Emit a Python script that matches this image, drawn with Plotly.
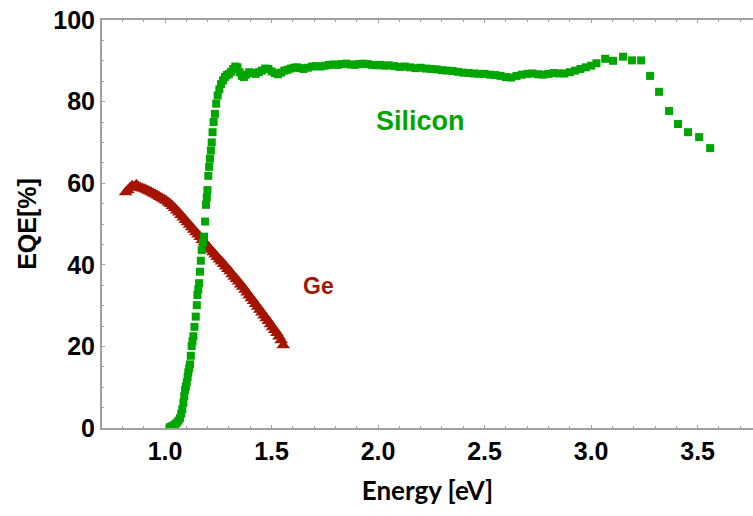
import plotly.graph_objects as go

# Silicon photodiode EQE vs photon energy
si_energy = [
    1.023, 1.031, 1.039, 1.047, 1.055, 1.063, 1.070, 1.076, 1.081, 1.086,
    1.090, 1.094, 1.098, 1.102, 1.106, 1.109, 1.113, 1.117, 1.121, 1.125,
    1.129, 1.133, 1.138, 1.144, 1.149, 1.152, 1.156, 1.160, 1.164, 1.168,
    1.172, 1.178, 1.183, 1.188, 1.192, 1.196, 1.199, 1.203, 1.207, 1.211,
    1.215, 1.219, 1.223, 1.228, 1.234, 1.240, 1.247, 1.255, 1.263, 1.272,
    1.281, 1.290, 1.300, 1.310, 1.320, 1.330, 1.340, 1.350, 1.360, 1.370,
    1.380, 1.395, 1.410, 1.425, 1.440, 1.455, 1.470, 1.485, 1.500, 1.515,
    1.530, 1.545, 1.560, 1.575, 1.590, 1.605, 1.620, 1.635, 1.650, 1.670,
    1.690, 1.710, 1.730, 1.750, 1.770, 1.790, 1.810, 1.830, 1.850, 1.870,
    1.890, 1.910, 1.930, 1.950, 1.970, 1.990, 2.010, 2.030, 2.050, 2.075,
    2.100, 2.125, 2.150, 2.175, 2.200, 2.225, 2.250, 2.275, 2.300, 2.325,
    2.350, 2.375, 2.400, 2.425, 2.450, 2.475, 2.500, 2.525, 2.550, 2.575,
    2.600, 2.625, 2.650, 2.675, 2.700, 2.725, 2.750, 2.775, 2.800, 2.825,
    2.850, 2.875, 2.900, 2.925, 2.950, 2.975, 3.000, 3.025, 3.066, 3.103,
    3.150, 3.192, 3.235, 3.277, 3.319, 3.366, 3.408, 3.455, 3.507, 3.559,
]
si_eqe = [
    0.2, 0.4, 0.6, 0.9, 1.3, 1.8, 2.4, 3.5, 4.6, 6.2,
    7.8, 9.3, 10.2, 11.2, 12.5, 13.6, 14.6, 15.6, 17.7, 20.1,
    21.3, 22.5, 24.8, 27.3, 30.1, 32.6, 34.0, 35.5, 38.3, 41.0,
    43.6, 45.5, 46.9, 50.6, 54.7, 56.5, 58.3, 61.8, 64.0, 66.0,
    68.0, 70.0, 72.5, 75.0, 77.0, 79.5, 81.5, 83.0, 84.3, 85.2,
    86.0, 86.5, 86.8, 87.3, 88.0, 88.6, 88.4, 87.2, 86.3, 86.0,
    86.6, 87.2, 87.0, 86.8, 87.2, 87.6, 88.1, 88.0, 87.4, 87.0,
    86.7, 87.1, 87.6, 87.8, 88.1, 88.3, 88.4, 88.2, 88.0, 88.3,
    88.6, 88.7, 88.6, 88.8, 89.0, 89.1, 89.0, 89.2, 89.3, 89.1,
    89.0, 89.2, 89.3, 89.2, 89.0, 88.9, 89.0, 88.8, 88.9, 88.7,
    88.5, 88.6, 88.4, 88.2, 88.3, 88.1, 88.0, 87.9, 87.7, 87.6,
    87.5, 87.3, 87.1, 87.0, 86.9, 86.8, 86.8, 86.6, 86.5, 86.3,
    86.0, 85.9, 86.3, 86.6, 86.8, 86.9, 86.7, 86.6, 86.8, 87.0,
    86.9, 86.9, 87.2, 87.6, 88.0, 88.4, 88.8, 89.4, 90.5, 90.0,
    91.0, 90.1, 90.1, 86.3, 82.4, 77.7, 74.5, 72.5, 71.3, 68.6,
]

# Germanium photodiode EQE vs photon energy
ge_energy = [
    0.815, 0.825, 0.835, 0.845, 0.855, 0.865, 0.875, 0.885, 0.895, 0.905,
    0.915, 0.925, 0.935, 0.945, 0.955, 0.965, 0.975, 0.985, 0.995, 1.005,
    1.015, 1.025, 1.035, 1.045, 1.055, 1.065, 1.075, 1.085, 1.095, 1.105,
    1.115, 1.125, 1.135, 1.145, 1.155, 1.165, 1.175, 1.185, 1.195, 1.205,
    1.215, 1.225, 1.235, 1.245, 1.255, 1.265, 1.275, 1.285, 1.295, 1.305,
    1.315, 1.325, 1.335, 1.345, 1.355, 1.365, 1.375, 1.385, 1.395, 1.405,
    1.415, 1.425, 1.435, 1.445, 1.455, 1.465, 1.475, 1.485, 1.495, 1.505,
    1.515, 1.525, 1.535, 1.545, 1.555,
]
ge_eqe = [
    57.8, 58.3, 58.9, 59.4, 59.1, 59.6, 59.2, 58.9, 58.7, 58.5,
    58.3, 58.0, 57.8, 57.5, 57.2, 56.9, 56.6, 56.3, 56.0, 55.7,
    55.3, 54.9, 54.4, 53.9, 53.3, 52.8, 52.2, 51.6, 51.0, 50.4,
    49.8, 49.2, 48.6, 48.0, 47.4, 46.8, 46.1, 45.5, 44.9, 44.3,
    43.7, 43.1, 42.5, 41.9, 41.3, 40.8, 40.2, 39.6, 39.0, 38.4,
    37.7, 37.1, 36.5, 35.9, 35.2, 34.6, 33.9, 33.2, 32.5, 31.8,
    31.1, 30.4, 29.7, 29.0, 28.3, 27.6, 26.9, 26.2, 25.4, 24.7,
    24.0, 23.3, 22.4, 21.5, 20.3,
]

x_ticks = [1.0, 1.5, 2.0, 2.5, 3.0, 3.5]
x_tick_text = ["1.0", "1.5", "2.0", "2.5", "3.0", "3.5"]
y_ticks = [0, 20, 40, 60, 80, 100]

SI_GREEN = "#00A600"
GE_RED = "#A51400"
AXIS_GRAY = "#A0A0A0"
BOLD_SANS = "Liberation Sans, Arial, sans-serif"

fig = go.Figure()
fig.add_trace(go.Scatter(
    x=ge_energy, y=ge_eqe, mode="markers", name="Ge",
    marker=dict(symbol="triangle-up", size=12, color=GE_RED, line=dict(width=0)),
))
fig.add_trace(go.Scatter(
    x=si_energy, y=si_eqe, mode="markers", name="Silicon",
    marker=dict(symbol="square", size=8, color=SI_GREEN, line=dict(width=0)),
))

fig.add_annotation(x=2.20, y=75.2, text="Silicon", showarrow=False,
                   font=dict(family=BOLD_SANS, size=27, color=SI_GREEN, weight="bold"))
fig.add_annotation(x=1.718, y=34.8, text="Ge", showarrow=False,
                   font=dict(family=BOLD_SANS, size=23, color=GE_RED, weight="bold"))

fig.update_layout(
    width=753, height=516,
    margin=dict(l=102, r=0, t=20, b=88),
    paper_bgcolor="white", plot_bgcolor="white",
    showlegend=False,
    xaxis=dict(
        range=[0.704, 3.76], tickvals=x_ticks, ticktext=x_tick_text,
        showgrid=False, zeroline=False,
        showline=True, linecolor=AXIS_GRAY, linewidth=2, mirror="ticks",
        ticks="inside", ticklen=3, tickcolor=AXIS_GRAY, tickwidth=1,
        minor=dict(dtick=0.1, ticks="inside", ticklen=2, tickcolor=AXIS_GRAY, showgrid=False),
        tickfont=dict(family=BOLD_SANS, size=25, color="black", weight="bold"),
        title=dict(text="Energy [eV]", standoff=18,
                   font=dict(family="Lato, sans-serif", size=26, color="black", weight="bold")),
    ),
    yaxis=dict(
        range=[0, 100], tickvals=y_ticks,
        showgrid=False, zeroline=False,
        showline=True, linecolor=AXIS_GRAY, linewidth=2,
        ticks="inside", ticklen=3, tickcolor=AXIS_GRAY, tickwidth=1,
        minor=dict(dtick=5, ticks="inside", ticklen=2, tickcolor=AXIS_GRAY, showgrid=False),
        tickfont=dict(family=BOLD_SANS, size=25, color="black", weight="bold"),
        title=dict(text="EQE[%]", standoff=10,
                   font=dict(family=BOLD_SANS, size=25, color="black", weight="bold")),
    ),
)

fig.write_html("out.html")
